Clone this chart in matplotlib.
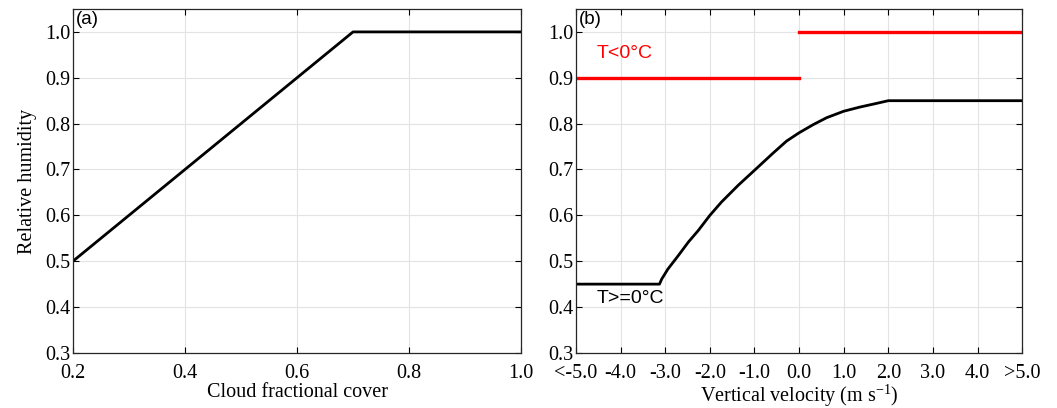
import numpy as np
import matplotlib
matplotlib.use('Agg')
import matplotlib.pyplot as plt

plt.rcParams['font.family'] = 'Liberation Serif'
plt.rcParams['mathtext.default'] = 'regular'
plt.rcParams['xtick.direction'] = 'in'
plt.rcParams['ytick.direction'] = 'in'

# (a) relative humidity vs cloud fraction
cf = [0.2, 0.7, 1.0]
rh_a = [0.5, 1.0, 1.0]

# (b) relative humidity vs vertical velocity
w_warm = [-5.0, -3.13, -3.08, -2.94, -2.71, -2.48, -2.26, -2.0, -1.74, -1.36, -0.98,
          -0.58, -0.28, 0.0, 0.32, 0.62, 1.0, 1.36, 1.73, 2.0, 5.0]
rh_warm = [0.45, 0.45, 0.461, 0.483, 0.512, 0.542, 0.567, 0.60, 0.629, 0.666, 0.70,
           0.736, 0.762, 0.78, 0.798, 0.813, 0.827, 0.836, 0.844, 0.85, 0.85]
w_cold1 = [-5.0, 0.0]
rh_cold1 = [0.9, 0.9]
w_cold2 = [0.0, 5.0]
rh_cold2 = [1.0, 1.0]

yticks = [0.3, 0.4, 0.5, 0.6, 0.7, 0.8, 0.9, 1.0]
xticks_a = [0.2, 0.4, 0.6, 0.8, 1.0]
xticks_b = [-5, -4, -3, -2, -1, 0, 1, 2, 3, 4, 5]
xlabels_b = ['<-5.0', '-4.0', '-3.0', '-2.0', '-1.0', '0.0', '1.0', '2.0', '3.0', '4.0', '>5.0']

fig = plt.figure(figsize=(10.57, 4.08), dpi=100)
ax1 = fig.add_axes([0.069, 0.135, 0.424, 0.843])
ax2 = fig.add_axes([0.545, 0.135, 0.422, 0.843])

fs = 14.5
for ax in (ax1, ax2):
    ax.set_ylim(0.3, 1.05)
    ax.set_yticks(yticks)
    ax.set_yticklabels(['%.1f' % v for v in yticks])
    ax.grid(True, color='#e3e3e3', linewidth=0.8)
    ax.set_axisbelow(True)
    ax.tick_params(top=True, right=True, labelsize=fs, length=4)
    ax.tick_params(axis='x', pad=8)
    ax.tick_params(axis='y', pad=2)
    for s in ax.spines.values():
        s.set_linewidth(0.9)
        s.set_color('#262626')

ax1.plot(cf, rh_a, color='k', lw=2)
ax1.set_xlim(0.2, 1.0)
ax1.set_xticks(xticks_a)
ax1.set_xticklabels(['%.1f' % v for v in xticks_a])
ax1.set_xlabel('Cloud fractional cover', fontsize=fs, labelpad=0)
ax1.set_ylabel('Relative humidity', fontsize=fs, labelpad=6)
ax1.text(0.006, 0.995, '(a)', transform=ax1.transAxes, ha='left', va='top',
         fontsize=13.5, family='Liberation Sans')

ax2.plot(w_cold1, rh_cold1, color='red', lw=2.4)
ax2.plot(w_cold2, rh_cold2, color='red', lw=2.4)
ax2.plot(w_warm, rh_warm, color='k', lw=2)
ax2.set_xlim(-5, 5)
ax2.set_xticks(xticks_b)
ax2.set_xticklabels(xlabels_b)
ax2.set_xlabel('Vertical velocity (m s$^{-1}$)', fontsize=fs, labelpad=0)
ax2.text(0.006, 0.995, '(b)', transform=ax2.transAxes, ha='left', va='top',
         fontsize=13.5, family='Liberation Sans')
ax2.text(-4.55, 0.952, 'T<0°C', color='red', fontsize=14, family='Liberation Sans',
         ha='left', va='center')
ax2.text(-4.55, 0.418, 'T>=0°C', color='k', fontsize=14, family='Liberation Sans',
         ha='left', va='center')

fig.savefig('out.png', dpi=100)
